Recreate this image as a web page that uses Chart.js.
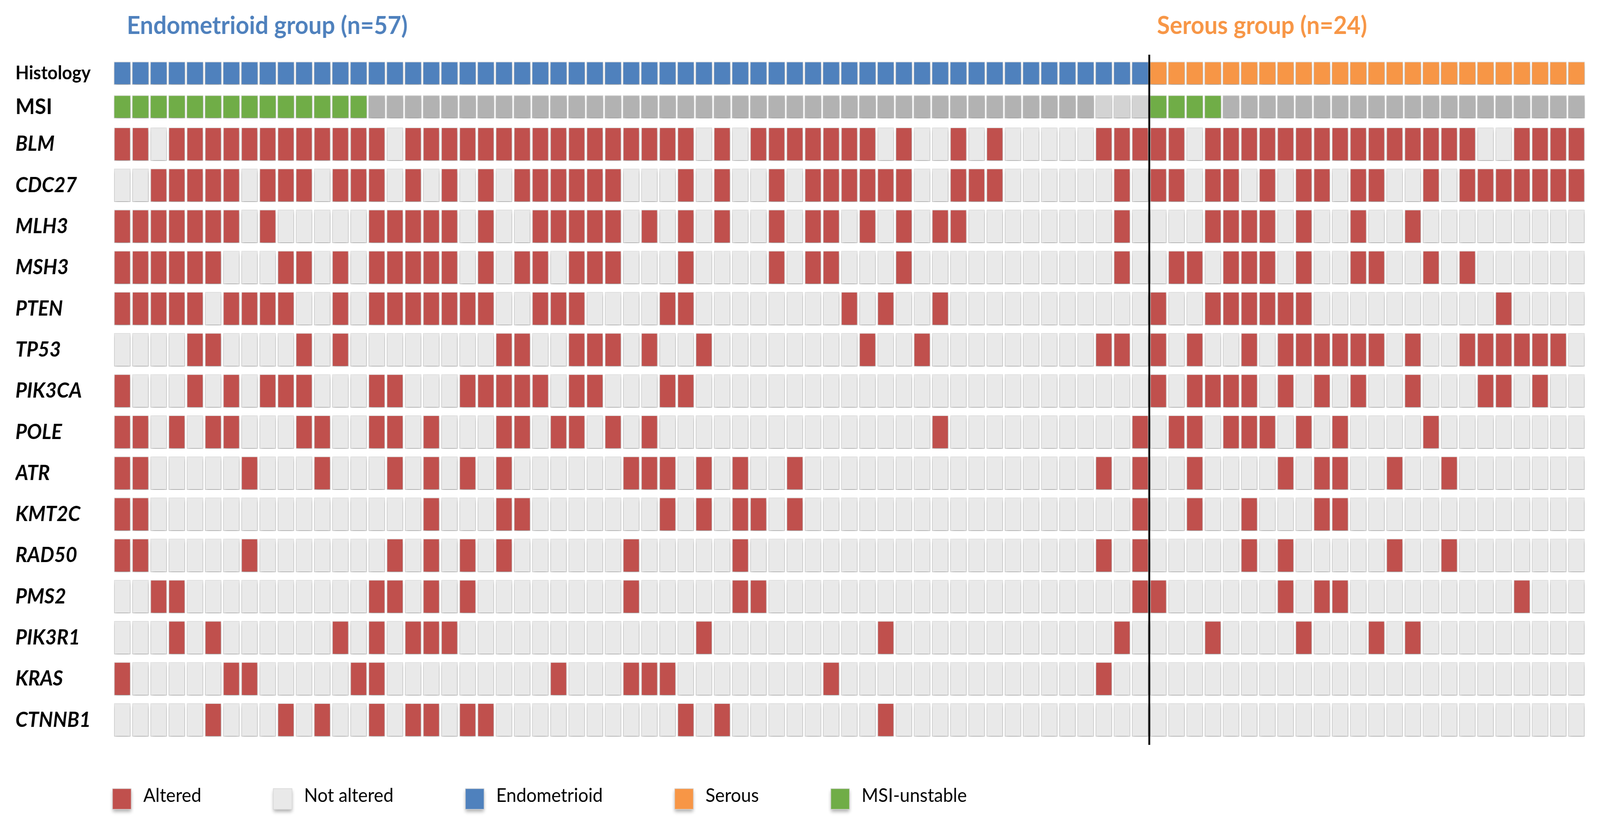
<!DOCTYPE html>
<html lang="en">
<head>
<meta charset="UTF-8">
<title>Endometrioid vs serous alterations</title>
<script src="https://cdn.jsdelivr.net/npm/chart.js"></script>
<style>
  html, body { margin: 0; padding: 0; background: #fff; overflow: hidden; }
  #wrap { position: fixed; left: 0; top: 0; width: 100vw; height: 100vh; }
</style>
</head>
<body>
<div id="wrap"><canvas id="oncoprint" width="4360" height="2107" style="display:block;width:100vw;height:100vh"></canvas></div>
<script>
// ---- data ----
const GROUP_TITLES = ['Endometrioid group (n=57)', 'Serous group (n=24)'];
const GROUP_KEYS = ['E', 'S'];
const GROUP_SIZES = [57, 24];

// MSI status per sample: U = unstable, S = stable, N = not available
const MSI = ('UUUUUUUUUUUUUU' + 'SSSSSSSSSSSSSSSSSSSSSSSSSSSSSSSSSSSSSSSS' + 'NNN' +
             'UUUU' + 'SSSSSSSSSSSSSSSSSSSS').split('');

const GENES = ['BLM', 'CDC27', 'MLH3', 'MSH3', 'PTEN', 'TP53', 'PIK3CA', 'POLE',
               'ATR', 'KMT2C', 'RAD50', 'PMS2', 'PIK3R1', 'KRAS', 'CTNNB1'];

// 1 = altered, 0 = not altered (57 endometrioid, then 24 serous)
const BLM = [
  1,1,0,1,1,1,1,1,1,1,1,1,1,1,1,0,1,1,1,1, 1,1,1,1,1,1,1,1,1,1,1,1,0,1,0,1,1,1,1,1, 1,1,0,1,0,0,1,0,1,0,0,0,0,0,1,1,1,
  1,1,0,1,1,1,1,1,1,1,1,1,1,1,1,1,1,1,0,0,1,1,1,1
];
const CDC27 = [
  0,0,1,1,1,1,1,0,1,1,1,0,1,1,1,0,1,0,1,0, 1,0,1,1,1,1,1,1,0,0,0,1,0,1,0,0,1,0,1,1, 1,1,1,1,0,0,1,1,1,0,0,0,0,0,0,1,0,
  1,1,0,1,1,0,1,0,1,1,0,1,1,0,0,1,0,1,1,1,1,1,1,1
];
const MLH3 = [
  1,1,1,1,1,1,1,0,1,0,0,0,0,0,1,1,1,1,1,0, 1,0,0,1,1,1,1,1,0,1,0,1,0,1,0,0,1,0,1,1, 0,1,0,1,0,1,1,0,0,0,0,0,0,0,0,1,0,
  0,0,0,1,1,1,1,0,1,0,0,1,0,0,1,0,0,0,0,0,0,0,0,0
];
const MSH3 = [
  1,1,1,1,1,1,0,0,0,1,1,0,1,0,1,1,1,1,1,0, 1,0,1,1,0,1,1,1,0,0,0,1,0,0,0,0,1,0,1,1, 0,0,0,1,0,0,0,0,0,0,0,0,0,0,0,1,0,
  0,1,1,0,1,1,1,0,1,0,0,1,1,0,0,1,0,1,0,0,0,0,0,0
];
const PTEN = [
  1,1,1,1,1,0,1,1,1,1,0,0,1,0,1,1,1,1,1,1, 1,0,0,1,1,1,0,0,0,0,1,1,0,0,0,0,0,0,0,0, 1,0,1,0,0,1,0,0,0,0,0,0,0,0,0,0,0,
  1,0,0,1,1,1,1,1,1,0,0,0,0,0,0,0,0,0,0,1,0,0,0,0
];
const TP53 = [
  0,0,0,0,1,1,0,0,0,0,1,0,1,0,0,0,0,0,0,0, 0,1,1,0,0,1,1,1,0,1,0,0,1,0,0,0,0,0,0,0, 0,1,0,0,1,0,0,0,0,0,0,0,0,0,1,1,0,
  1,0,1,0,0,1,0,1,1,1,1,1,1,0,1,0,0,1,1,1,1,1,1,0
];
const PIK3CA = [
  1,0,0,0,1,0,1,0,1,1,1,0,0,0,1,1,0,0,0,1, 1,1,1,1,0,1,1,0,0,0,1,1,0,0,0,0,0,0,0,0, 0,0,0,0,0,0,0,0,0,0,0,0,0,0,0,0,0,
  1,0,1,1,1,1,0,1,0,1,0,1,0,0,1,0,0,0,1,1,0,1,0,0
];
const POLE = [
  1,1,0,1,0,1,1,0,0,0,1,1,0,0,1,1,0,1,0,0, 0,1,1,0,1,1,0,1,0,1,0,0,0,0,0,0,0,0,0,0, 0,0,0,0,0,1,0,0,0,0,0,0,0,0,0,0,1,
  0,1,1,0,1,1,1,0,1,0,1,0,0,0,0,1,0,0,0,0,0,0,0,0
];
const ATR = [
  1,1,0,0,0,0,0,1,0,0,0,1,0,0,0,1,0,1,0,1, 0,1,0,0,0,0,0,0,1,1,1,0,1,0,1,0,0,1,0,0, 0,0,0,0,0,0,0,0,0,0,0,0,0,0,1,0,1,
  0,0,1,0,0,0,0,1,0,1,1,0,0,1,0,0,1,0,0,0,0,0,0,0
];
const KMT2C = [
  1,1,0,0,0,0,0,0,0,0,0,0,0,0,0,0,0,1,0,0, 0,1,1,0,0,0,0,0,0,0,1,0,1,0,1,1,0,1,0,0, 0,0,0,0,0,0,0,0,0,0,0,0,0,0,0,0,1,
  0,0,1,0,0,1,0,0,0,1,1,0,0,0,0,0,0,0,0,0,0,0,0,0
];
const RAD50 = [
  1,1,0,0,0,0,0,1,0,0,0,0,0,0,0,1,0,1,0,1, 0,1,0,0,0,0,0,0,1,0,0,0,0,0,1,0,0,0,0,0, 0,0,0,0,0,0,0,0,0,0,0,0,0,0,1,0,1,
  0,0,0,0,0,1,0,1,0,0,0,0,0,1,0,0,1,0,0,0,0,0,0,0
];
const PMS2 = [
  0,0,1,1,0,0,0,0,0,0,0,0,0,0,1,1,0,1,0,1, 0,0,0,0,0,0,0,0,1,0,0,0,0,0,1,1,0,0,0,0, 0,0,0,0,0,0,0,0,0,0,0,0,0,0,0,0,1,
  1,0,0,0,0,0,0,1,0,1,1,0,0,0,0,0,0,0,0,0,1,0,0,0
];
const PIK3R1 = [
  0,0,0,1,0,1,0,0,0,0,0,0,1,0,1,0,1,1,1,0, 0,0,0,0,0,0,0,0,0,0,0,0,1,0,0,0,0,0,0,0, 0,0,1,0,0,0,0,0,0,0,0,0,0,0,0,1,0,
  0,0,0,1,0,0,0,0,1,0,0,0,1,0,1,0,0,0,0,0,0,0,0,0
];
const KRAS = [
  1,0,0,0,0,0,1,1,0,0,0,0,0,1,1,0,0,0,0,0, 0,0,0,0,1,0,0,0,1,1,1,0,0,0,0,0,0,0,0,1, 0,0,0,0,0,0,0,0,0,0,0,0,0,0,1,0,0,
  0,0,0,0,0,0,0,0,0,0,0,0,0,0,0,0,0,0,0,0,0,0,0,0
];
const CTNNB1 = [
  0,0,0,0,0,1,0,0,0,1,0,1,0,0,1,0,1,1,0,1, 1,0,0,0,0,0,0,0,0,0,0,1,0,1,0,0,0,0,0,0, 0,0,1,0,0,0,0,0,0,0,0,0,0,0,0,0,0,
  0,0,0,0,0,0,0,0,0,0,0,0,0,0,0,0,0,0,0,0,0,0,0,0
];
const GENE_ROWS = [BLM, CDC27, MLH3, MSH3, PTEN, TP53, PIK3CA, POLE, ATR, KMT2C, RAD50, PMS2, PIK3R1, KRAS, CTNNB1];

const LEGEND_LABELS = ['Altered', 'Not altered', 'Endometrioid', 'Serous', 'MSI-unstable'];

// ---- colours ----
const RED = '#C0504D', GREY = '#E9E9E9';
const BLUE = '#4F81BD', ORANGE = '#F79646', GREEN = '#70AD47';
const HIST_COLOR = { E: BLUE, S: ORANGE };
const MSI_COLOR = { U: GREEN, S: '#B2B2B2', N: '#D3D3D3' };
const CELL_EDGE = '#D8D8D8';
const LEGEND_COLORS = [RED, GREY, BLUE, ORANGE, GREEN];
const GROUP_COLORS = [BLUE, ORANGE];

// ---- build rows ----
const SAMPLES = GROUP_KEYS.flatMap((k, g) => Array.from({ length: GROUP_SIZES[g] }, (_, i) => k + (i + 1)));
const HISTOLOGY = SAMPLES.map(s => s[0]);
const ROW_NAMES = ['Histology', 'MSI', ...GENES];

// vertical layout in gene-row units (BLM = 0, one unit per gene row)
const ANNOT_CENTERS = [-1.724, -0.907];
const ANNOT_HALF = 0.28, GENE_HALF = 0.405;
function rowCenter(i) { return i < 2 ? ANNOT_CENTERS[i] : i - 2; }
function rowBand(i) {
  const h = i < 2 ? ANNOT_HALF : GENE_HALF;
  return [rowCenter(i) - h, rowCenter(i) + h];
}

const rowColors = [
  HISTOLOGY.map(h => HIST_COLOR[h]),
  MSI.map(m => MSI_COLOR[m]),
  ...GENE_ROWS.map(r => r.map(v => v ? RED : GREY))
];

const datasets = ROW_NAMES.map((name, i) => ({
  label: name,
  data: SAMPLES.map(() => rowBand(i)),
  backgroundColor: rowColors[i],
  borderColor: CELL_EDGE,
  borderWidth: 1.5,
  borderSkipped: false,
  grouped: false,
  barPercentage: i < 2 ? 0.93 : 0.9,
  categoryPercentage: 1
}));

// ---- plugins ----
const cellShadow = {
  id: 'cellShadow',
  beforeDatasetsDraw(chart) {
    const ctx = chart.ctx;
    ctx.save();
    ctx.shadowColor = 'rgba(0,0,0,0.32)';
    ctx.shadowBlur = 9;
    ctx.shadowOffsetX = 1;
    ctx.shadowOffsetY = 6;
  },
  afterDatasetsDraw(chart) {
    chart.ctx.restore();
  }
};

function groupBoundary(chart) {
  const x = chart.scales.x;
  return (x.getPixelForValue(GROUP_SIZES[0] - 1) + x.getPixelForValue(GROUP_SIZES[0])) / 2;
}

const divider = {
  id: 'divider',
  afterDatasetsDraw(chart) {
    const { ctx, chartArea } = chart;
    const bx = groupBoundary(chart);
    ctx.save();
    ctx.strokeStyle = '#000';
    ctx.lineWidth = 5;
    ctx.beginPath();
    ctx.moveTo(bx, chartArea.top);
    ctx.lineTo(bx, chartArea.bottom);
    ctx.stroke();
    ctx.restore();
  }
};

const groupTitles = {
  id: 'groupTitles',
  afterDraw(chart) {
    const { ctx, chartArea } = chart;
    const starts = [chartArea.left + 37, groupBoundary(chart) + 21];
    ctx.save();
    ctx.font = 'bold 64px Lato';
    ctx.textBaseline = 'alphabetic';
    ctx.textAlign = 'left';
    GROUP_TITLES.forEach((t, i) => {
      ctx.fillStyle = GROUP_COLORS[i];
      ctx.fillText(t, starts[i], chartArea.top - 53);
    });
    ctx.restore();
  }
};

const cellLegend = {
  id: 'cellLegend',
  afterDraw(chart) {
    const { ctx, chartArea } = chart;
    const top = chartArea.bottom + 112;
    let x = chartArea.left - 2;
    ctx.save();
    ctx.font = '49px Lato';
    ctx.textBaseline = 'alphabetic';
    ctx.textAlign = 'left';
    LEGEND_LABELS.forEach((label, i) => {
      ctx.save();
      ctx.shadowColor = 'rgba(0,0,0,0.32)';
      ctx.shadowBlur = 9;
      ctx.shadowOffsetY = 6;
      ctx.fillStyle = LEGEND_COLORS[i];
      ctx.fillRect(x, top, 51, 53);
      ctx.restore();
      ctx.strokeStyle = CELL_EDGE;
      ctx.lineWidth = 1.5;
      ctx.strokeRect(x, top, 51, 53);
      ctx.fillStyle = '#000';
      ctx.fillText(label, x + 84, top + 34);
      x += 84 + ctx.measureText(label).width + 196;
    });
    ctx.restore();
  }
};

// ---- chart ----
Chart.defaults.font.family = 'Lato, "Open Sans", sans-serif';

new Chart(document.getElementById('oncoprint'), {
  type: 'bar',
  data: { labels: SAMPLES, datasets: datasets },
  options: {
    responsive: false,
    animation: false,
    devicePixelRatio: 1,
    layout: { padding: { left: 42, top: 140, right: 39.5, bottom: 200 } },
    plugins: {
      legend: { display: false },
      tooltip: { enabled: false }
    },
    scales: {
      x: { type: 'category', display: false, offset: true },
      y: {
        type: 'linear',
        reverse: true,
        min: -2.175,
        max: 14.606,
        grid: { display: false },
        border: { display: false },
        afterFit: (scale) => { scale.width = 266.5; },
        afterBuildTicks: (scale) => {
          scale.ticks = ROW_NAMES.map((_, i) => ({ value: rowCenter(i) }));
        },
        ticks: {
          autoSkip: false,
          crossAlign: 'far',
          padding: 0,
          color: '#000',
          callback: (value, index) => ROW_NAMES[index],
          font: (c) => {
            if (c.index === 0) return { size: 48, weight: 'bold', style: 'normal' };
            if (c.index === 1) return { size: 56, weight: 'bold', style: 'normal' };
            return { size: 54, weight: 'bold', style: 'italic' };
          }
        }
      }
    }
  },
  plugins: [cellShadow, divider, groupTitles, cellLegend]
});
</script>
</body>
</html>
